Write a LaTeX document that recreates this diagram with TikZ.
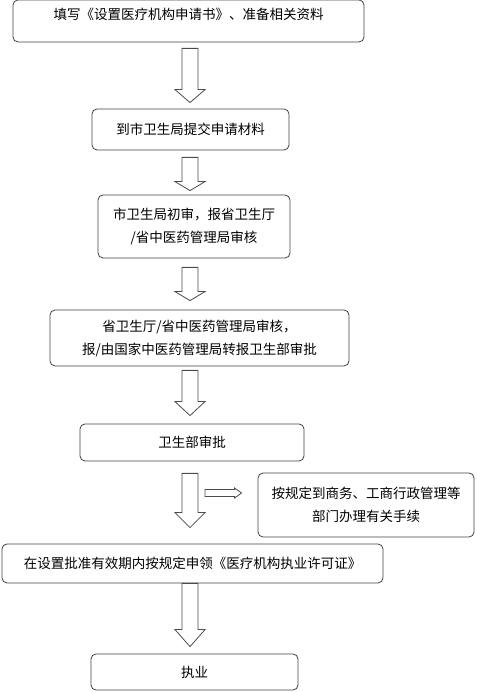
\documentclass[tikz,border=0pt]{standalone}
\usepackage{fontspec}
\newfontfamily\cjk{Noto Sans CJK SC}
\usetikzlibrary{calc}
\tikzset{
  box/.style={draw=black!75, line width=0.8pt, rounded corners=5pt, inner sep=0pt, align=center,
    font=\cjk\fontsize{13.5}{23}\selectfont},
  blk/.style={draw=black!70, line width=0.8pt, fill=white, line join=miter}
}
% hollow down arrow: from, to, top gap, bottom gap, head length
\newcommand{\blockarrow}[5]{%
  \coordinate (t) at ($(#1.south -| ax)+(0,-#3)$);
  \coordinate (p) at ($(#2.north -| ax)+(0,#4)$);
  \coordinate (h) at ($(p)+(0,#5)$);
  \draw[blk] ([xshift=-8pt]t) -- ([xshift=8pt]t) -- ([xshift=8pt]h) -- ([xshift=15pt]h) -- (p)
    -- ([xshift=-15pt]h) -- ([xshift=-8pt]h) -- cycle;
}
\begin{document}
\begin{tikzpicture}[x=1pt,y=1pt]
\useasboundingbox (0,0) rectangle (476,692);
\coordinate (ax) at (190,0);
    \node[box, minimum width=351pt, minimum height=42pt, text depth=14pt] (fill) at (188.5,671) {填写《设置医疗机构申请书》、准备相关资料};
    \node[box, minimum width=197pt, minimum height=41pt] (submit) at (190.5,562.5) {到市卫生局提交申请材料};
    \node[box, minimum width=192pt, minimum height=63pt] (city) at (194,465.5) {市卫生局初审，报省卫生厅\\/省中医药管理局审核};
    \node[box, minimum width=299pt, minimum height=56pt] (prov) at (199.5,354) {省卫生厅/省中医药管理局审核，\\报/由国家中医药管理局转报卫生部审批};
    \node[box, minimum width=224pt, minimum height=37pt] (moh) at (192,249.5) {卫生部审批};
    \node[box, minimum width=216pt, minimum height=64pt] (other) at (366,187) {按规定到商务、工商行政管理等\\部门办理有关手续};
    \node[box, minimum width=381pt, minimum height=39pt] (licence) at (192.5,128.5) {在设置批准有效期内按规定申领《医疗机构执业许可证》};
    \node[box, minimum width=207pt, minimum height=36pt] (practice) at (194.5,20) {执业};
% arrows between the steps
\blockarrow{fill}{submit}{6}{6}{13}
\blockarrow{submit}{city}{7}{4}{9}
\blockarrow{city}{prov}{9}{9}{9}
\blockarrow{prov}{moh}{4}{8}{14}
\blockarrow{moh}{licence}{12}{16}{15}
\blockarrow{licence}{practice}{0}{7}{17}
% side arrow
\coordinate (s) at (205,199);
\coordinate (e) at ($(s -| other.west)+(-16,0)$);
\draw[blk] ([yshift=3.5pt]s) -- ($(e)+(-7,3.5)$) -- ($(e)+(-7,5)$) -- (e) -- ($(e)+(-7,-5)$)
    -- ($(e)+(-7,-3.5)$) -- ([yshift=-3.5pt]s) -- cycle;
\end{tikzpicture}
\end{document}
